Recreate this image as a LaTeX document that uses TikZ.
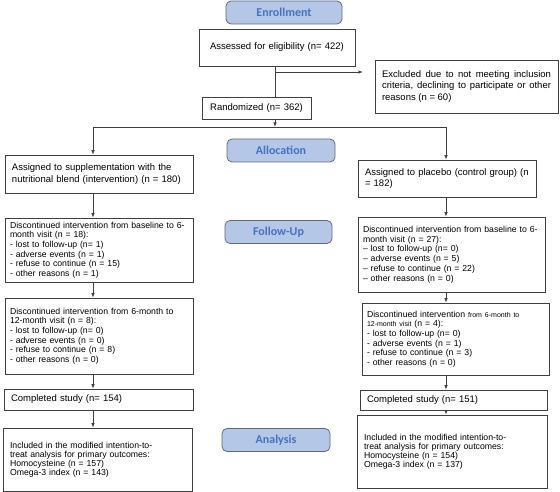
\documentclass[tikz,border=0pt]{standalone}
\usepackage{fontspec}
\setmainfont{Liberation Sans}
\newfontfamily\stagefont{Carlito}
\usepackage{tikz}
\usetikzlibrary{arrows.meta}
\definecolor{boxgray}{HTML}{3F3F3F}
\definecolor{stagefill}{HTML}{B4C7E7}
\definecolor{stagetext}{HTML}{4472C4}
\definecolor{stageline}{HTML}{5E6C80}

\begin{document}
\begin{tikzpicture}[x=1pt,y=-1pt,
    box/.style={draw=boxgray, line width=0.7pt, inner xsep=7pt, inner ysep=2pt, align=left},
    dbox/.style={box, inner xsep=5pt, font=\fontsize{8.7}{9.7}\selectfont},
    stage/.style={draw=stageline, fill=stagefill, rounded corners=5pt, line width=0.8pt,
        minimum height=23pt, text=stagetext, font=\stagefont\bfseries\fontsize{12}{14}\selectfont},
    arr/.style={-{Latex[length=4.5pt,width=3.5pt]}, draw=boxgray, line width=0.8pt},
    line/.style={draw=boxgray, line width=0.8pt}]

\useasboundingbox (0,0) rectangle (560,492);

% stage labels
\node[stage, minimum width=116pt] (enr) at (284,12.5) {Enrollment};
\node[stage, minimum width=108pt] (alloc) at (281,150.5) {Allocation};
\node[stage, minimum width=107pt] (follow) at (278.5,232) {Follow-Up};
\node[stage, minimum width=108pt] (analysis) at (276,440) {Analysis};

% enrollment part
\node[box, text width=142pt, minimum height=37pt, align=center,
      font=\fontsize{9.5}{11.5}\selectfont] (assess) at (277,47.5) {Assessed for eligibility (n= 422)};
\node[box, text width=169pt, minimum height=53pt, inner xsep=7pt, align=justify,
      font=\fontsize{9.5}{11.5}\selectfont] (excl) at (466.5,86.5)
  {Excluded due to not meeting inclusion\linebreak criteria, declining to participate or other\linebreak reasons (n = 60)};
\node[box, text width=95pt, minimum height=22pt, align=center,
      font=\fontsize{9.5}{11.5}\selectfont] (rand) at (256.5,108) {Randomized (n= 362)};

\coordinate (trunk) at (275,0);
\coordinate (exclTip) at (363,72);
\coordinate (colL) at (93,127);
\coordinate (colR) at (446,127);

% left arm
\node[box, text width=174pt, minimum height=38pt, font=\fontsize{9.5}{11.5}\selectfont] (asgL) at (99,174)
  {Assigned to supplementation with the\\nutritional blend (intervention) (n = 180)};
\node[dbox, text width=178pt, minimum height=64pt] (dis1L) at (99,250)
  {Discontinued intervention from baseline to 6-\\month visit (n = 18):\\- lost to follow-up (n= 1)\\- adverse events (n = 1)\\- refuse to continue (n = 15)\\- other reasons (n = 1)};
\node[dbox, text width=178pt, minimum height=76pt] (dis2L) at (99,336)
  {Discontinued intervention from 6-month to\\12-month visit (n = 8):\\- lost to follow-up (n= 0)\\- adverse events (n = 0)\\- refuse to continue (n = 8)\\- other reasons (n = 0)};
\node[box, text width=175pt, minimum height=21pt, font=\fontsize{9.5}{11.5}\selectfont] (compL) at (98.5,399.5)
  {Completed study (n= 154)};
\node[box, text width=175pt, minimum height=63pt, font=\fontsize{8.7}{8.9}\selectfont] (inclL) at (97.5,459.5)
  {Included in the modified intention-to-\\treat analysis for primary outcomes:\\Homocysteine (n = 157)\\Omega-3 index (n = 143)};

% right arm
\node[box, text width=164pt, minimum height=37pt, font=\fontsize{9.5}{11.5}\selectfont] (asgR) at (447,178.5)
  {Assigned to placebo (control group) (n\\= 182)};
\node[dbox, text width=177pt, minimum height=75pt] (dis1R) at (451.5,254.5)
  {Discontinued intervention from baseline to 6-\\month visit (n = 27):\\-- lost to follow-up (n= 0)\\-- adverse events (n = 5)\\-- refuse to continue (n = 22)\\-- other reasons (n = 0)};
\node[dbox, text width=177pt, minimum height=72pt] (dis2R) at (455.5,339)
  {Discontinued intervention {\fontsize{7}{9.7}\selectfont from 6-month to}\\{\fontsize{7}{9.7}\selectfont 12-month visit} (n = 4):\\- lost to follow-up (n= 0)\\- adverse events (n = 1)\\- refuse to continue (n = 3)\\- other reasons (n = 0)};
\node[box, text width=173pt, minimum height=20pt, font=\fontsize{9.5}{11.5}\selectfont] (compR) at (453.5,400)
  {Completed study (n= 151)};
\node[box, text width=176pt, minimum height=73pt, font=\fontsize{8.7}{8.9}\selectfont] (inclR) at (452,451.5)
  {Included in the modified intention-to-\\treat analysis for primary outcomes:\\Homocysteine (n = 154)\\Omega-3 index (n = 137)};

% connectors
\draw[line] (assess.south -| trunk) -- (rand.north -| trunk);
\draw[arr] (exclTip -| trunk) -- (exclTip);
\draw[arr] (rand.south -| trunk) -- (trunk |- colL);
\draw[line] (colL) -- (colR);
\draw[arr] (colL) -- (asgL.north -| colL);
\draw[arr] (asgL.south -| colL) -- (dis1L.north -| colL);
\draw[arr] (dis1L.south -| colL) -- (dis2L.north -| colL);
\draw[arr] (dis2L.south -| colL) -- (compL.north -| colL);
\draw[arr] (compL.south -| colL) -- (inclL.north -| colL);
\draw[arr] (colR) -- (asgR.north -| colR);
\draw[arr] (asgR.south -| colR) -- (dis1R.north -| colR);
\draw[arr] (dis1R.south -| colR) -- (dis2R.north -| colR);
\draw[arr] (dis2R.south -| colR) -- (compR.north -| colR);
\draw[arr] (compR.south -| colR) -- (inclR.north -| colR);
\end{tikzpicture}
\end{document}
